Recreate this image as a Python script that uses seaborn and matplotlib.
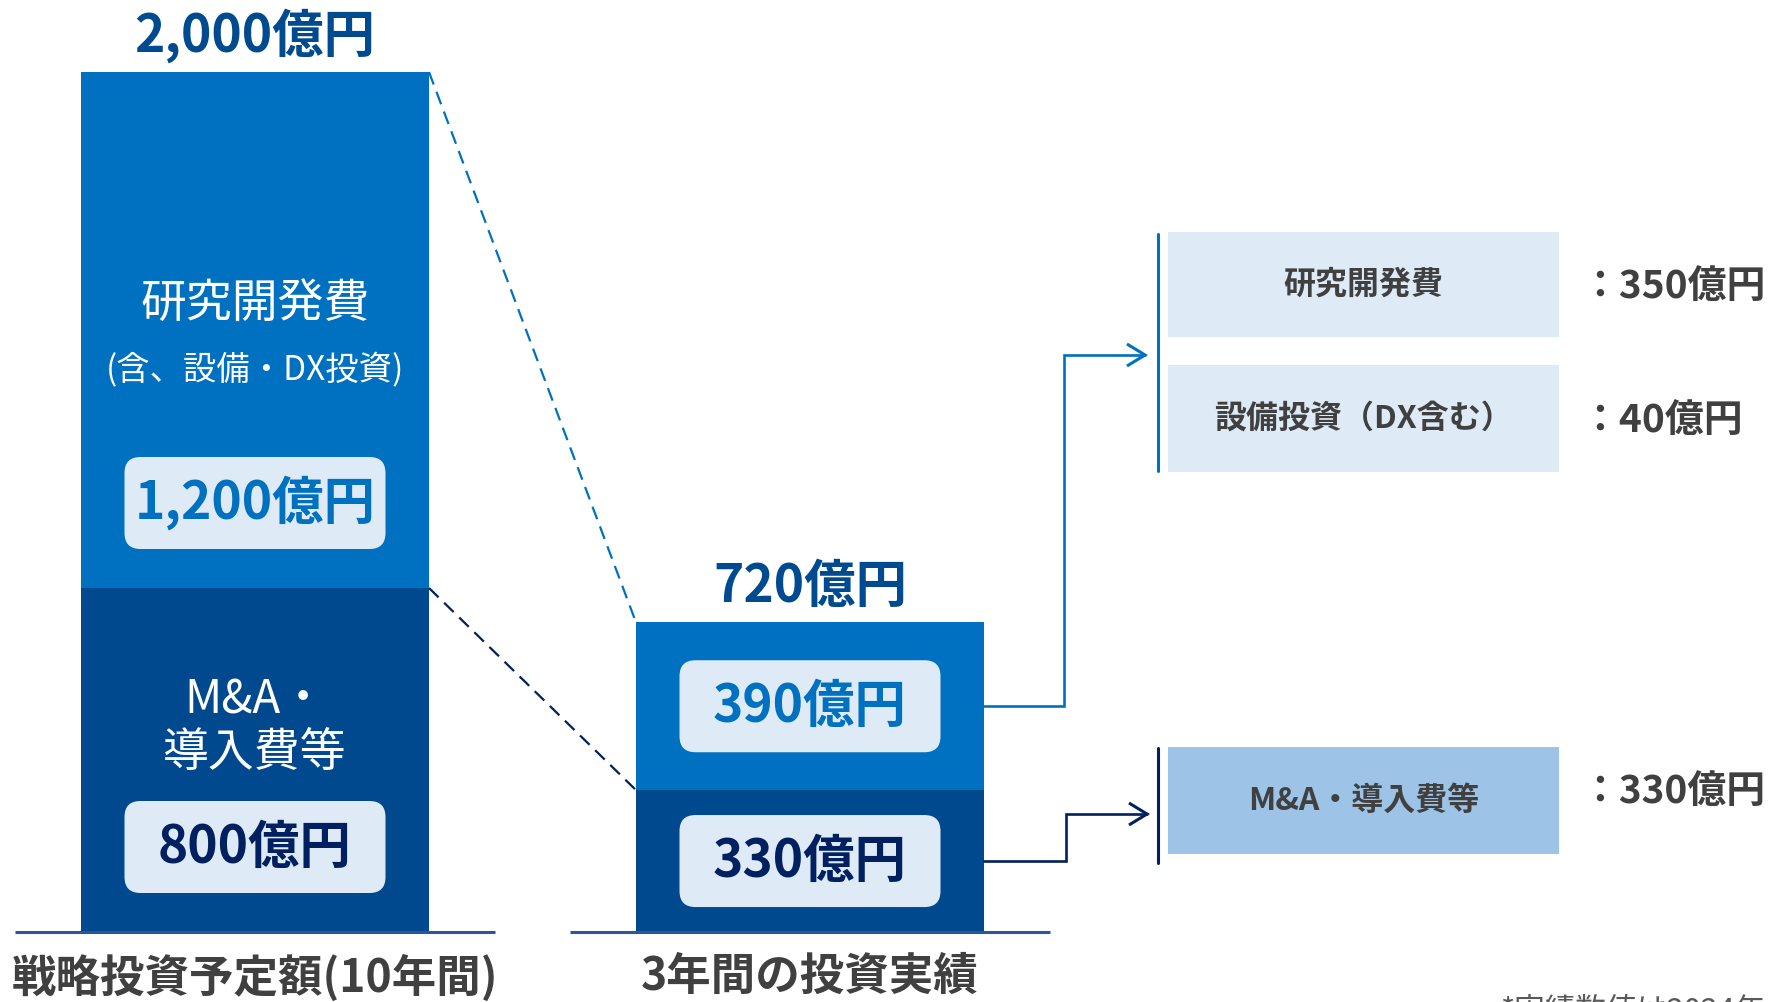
import numpy as np
import pandas as pd
import matplotlib
matplotlib.use('Agg')
import matplotlib.pyplot as plt
from matplotlib.patches import FancyBboxPatch, Rectangle
import seaborn as sns

# ---------------- data ----------------
stages = ['戦略投資予定額(10年間)', '3年間の投資実績']
rd_values = [1200, 390]          # 研究開発費 (含、設備・DX投資)
ma_values = [800, 330]           # M&A・導入費等
totals = [2000, 720]
total_labels = ['2,000億円', '720億円']
rd_labels = ['1,200億円', '390億円']
ma_labels = ['800億円', '330億円']
rd_names = ['研究開発費', '(含、設備・DX投資)']
ma_names = ['M&A・', '導入費等']
breakdown_names = ['研究開発費', '設備投資（DX含む）', 'M&A・導入費等']
breakdown_values = [350, 40, 330]
footnote = '*実績数値は2024年'

# ---------------- style ----------------
C_TOP = '#0070C0'
C_BOT = '#00498F'
C_HEAD = '#004A8F'
C_NAVY = '#002060'
C_BOX = '#DEEBF7'
C_BOX3 = '#9DC3E6'
C_GRAY = '#404040'
C_AXIS = '#2F5597'

W, H = 1771, 1002
sns.set_theme(style='white')
plt.rcParams['font.family'] = ['Noto Sans CJK JP', 'DejaVu Sans']

fig = plt.figure(figsize=(W / 100, H / 100), dpi=100)
BASE_PX = 932
PX_PER_UNIT = 0.43
ax = fig.add_axes([0, (H - BASE_PX) / H, 1, BASE_PX / H])

df = pd.DataFrame({'stage': stages, 'total': totals, 'ma': ma_values, 'rd': rd_values})
BAR_W = 0.627
sns.barplot(data=df, x='stage', y='total', color=C_TOP, saturation=1, width=BAR_W,
            errorbar=None, linewidth=0, ax=ax)
sns.barplot(data=df, x='stage', y='ma', color=C_BOT, saturation=1, width=BAR_W,
            errorbar=None, linewidth=0, ax=ax)

ax.set_xlim(-255 / 555, (W - 255) / 555)
ax.set_ylim(0, BASE_PX / PX_PER_UNIT)
ax.set_xlabel('')
ax.set_ylabel('')
ax.set_yticks([])
ax.set_xticks([0, 1])
ax.set_xticklabels(stages, fontsize=32, fontweight='bold', color=C_GRAY)
ax.tick_params(axis='x', length=0, pad=16)
for s in ax.spines.values():
    s.set_visible(False)

# category base lines
for i in range(len(stages)):
    ax.hlines(0, i - 0.4324, i + 0.4324, color=C_AXIS, lw=2.2, clip_on=False, zorder=5)

# totals on top
for i, (t, lbl) in enumerate(zip(totals, total_labels)):
    ax.annotate(lbl, (i, t), xytext=(0, 26), textcoords='offset points', ha='center',
                va='center', fontsize=37, fontweight='bold', color=C_HEAD)

# overlay in pixel coordinates
ov = fig.add_axes([0, 0, 1, 1], zorder=3)
ov.set_xlim(0, W)
ov.set_ylim(H, 0)
ov.axis('off')
ov.patch.set_alpha(0)


def d2p(x, y):
    X, Y = ax.transData.transform((x, y))
    return X, H - Y


BOX_W, BOX_H = 261, 92
for i in range(len(stages)):
    segs = [(ma_values[i], totals[i], rd_labels[i], C_TOP),
            (0, ma_values[i], ma_labels[i], C_NAVY)]
    centers = []
    for lo, hi, lbl, col in segs:
        xc, ytop = d2p(i, hi)
        _, ybot = d2p(i, lo)
        h = ybot - ytop
        cy = ybot - min(h / 2, 85)
        centers.append((xc, cy))
        ov.add_patch(FancyBboxPatch((xc - BOX_W / 2, cy - BOX_H / 2), BOX_W, BOX_H,
                                    boxstyle='round,pad=0,rounding_size=16',
                                    fc=C_BOX, ec='none', zorder=4))
        ov.text(xc, cy, lbl, ha='center', va='center', fontsize=37,
                fontweight='bold', color=col, zorder=5)
    if i == 0:
        (xc, cy_top), (_, cy_bot) = centers
        ov.text(xc, cy_top - 198, rd_names[0], ha='center', va='center',
                fontsize=33, color='white', zorder=5)
        ov.text(xc, cy_top - 132, rd_names[1], ha='center', va='center',
                fontsize=24, color='white', zorder=5)
        ov.text(xc, cy_bot - 147, ma_names[0], ha='center', va='center',
                fontsize=33, color='white', zorder=5)
        ov.text(xc, cy_bot - 94, ma_names[1], ha='center', va='center',
                fontsize=33, color='white', zorder=5)

# dashed link lines
for (v0, v1, col) in [(totals[0], totals[1], C_TOP), (ma_values[0], ma_values[1], C_NAVY)]:
    p0 = d2p(BAR_W / 2, v0)
    p1 = d2p(1 - BAR_W / 2, v1)
    ov.plot([p0[0], p1[0]], [p0[1], p1[1]], ls=(0, (6, 3.5)), lw=1.6, color=col, zorder=2)


def connector(y_val, x_mid, y_end, x_tip, col):
    x0, y0 = d2p(1 + BAR_W / 2, y_val)
    ov.plot([x0, x_mid, x_mid, x_tip], [y0, y0, y_end, y_end], color=col, lw=1.9,
            solid_joinstyle='miter', zorder=2)
    ov.plot([x_tip - 18, x_tip, x_tip - 18], [y_end - 11, y_end, y_end + 11], color=col,
            lw=2.2, solid_joinstyle='miter', solid_capstyle='butt', zorder=2)


connector((ma_values[1] + totals[1]) / 2, 1064, 355, 1145, C_TOP)
connector(ma_values[1] / 2, 1066, 814, 1147, C_NAVY)

# brackets
ov.plot([1158, 1158], [234, 471], color=C_TOP, lw=2.2)
ov.plot([1158, 1158], [748, 863], color=C_NAVY, lw=2.2)

# breakdown boxes
boxes = [(232, 105, C_BOX), (365, 107, C_BOX), (747, 107, C_BOX3)]
value_y = [286, 420, 791]
for (y0, h, fc), name, val, vy in zip(boxes, breakdown_names, breakdown_values, value_y):
    ov.add_patch(Rectangle((1168, y0), 391, h, fc=fc, ec='none'))
    ov.text(1168 + 391 / 2, y0 + h / 2, name, ha='center', va='center', fontsize=23,
            fontweight='bold', color=C_GRAY)
    ov.text(1580, vy, f'：{val}億円', ha='left', va='center', fontsize=28,
            fontweight='bold', color=C_GRAY)

ov.text(1500, 1020, footnote, ha='left', va='baseline', fontsize=22, color='#595959')

fig.savefig('out.png', dpi=100, facecolor='white')
